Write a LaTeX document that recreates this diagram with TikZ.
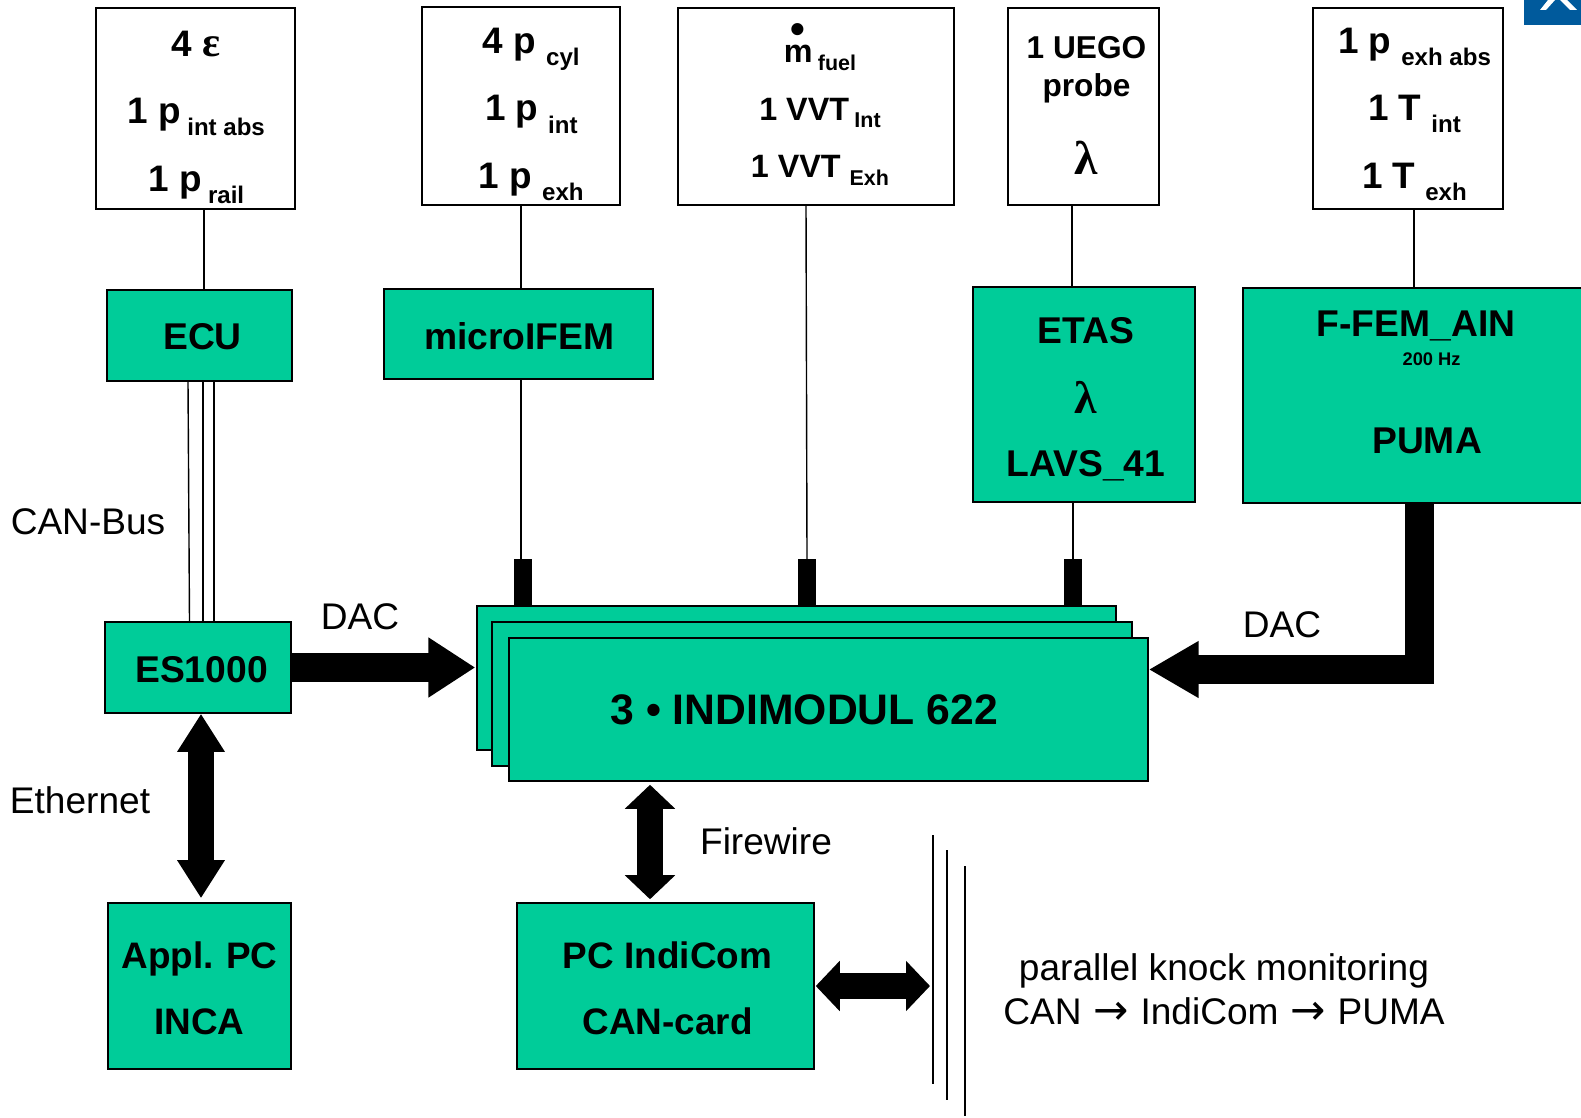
\documentclass[tikz,border=0pt]{standalone}
\usepackage{fontspec}
\setmainfont{Liberation Sans}
\newfontfamily\greekfont{Liberation Serif}
\newfontfamily\arrowfont{DejaVu Sans}
\usetikzlibrary{arrows.meta}
\definecolor{indigreen}{HTML}{00CC99}
\definecolor{logoblue}{HTML}{005A9C}
\newcommand{\lowtxt}[1]{\,\raisebox{-.33em}{\fontsize{13.7}{13.7}\selectfont #1}}
\newcommand{\lowsm}[1]{\,\raisebox{-.24em}{\fontsize{12.2}{12.2}\selectfont #1}}
\newcommand{\dotm}{\ooalign{m\cr\hidewidth\smash{\raisebox{.60em}{\fontsize{24}{24}\selectfont\textbullet}}\hidewidth\cr}}
\newcommand{\toppad}[1]{\rule{0pt}{#1}}
\newcommand{\botpad}[1]{\rule[-#1]{0pt}{#1}}
\newcommand{\rarr}{\hspace{.85pt}{\arrowfont\fontsize{24}{25}\selectfont →}\hspace{.85pt}}
\tikzset{
    sensbox/.style={draw, line width=0.9pt, fill=white, align=center, inner sep=0pt, font=\bfseries\fontsize{21}{38.3}\selectfont},
    modbox/.style={draw, line width=0.9pt, fill=indigreen, align=center, inner sep=0pt, font=\bfseries\fontsize{21.2}{33}\selectfont},
    lbl/.style={font=\fontsize{21.1}{25}\selectfont, align=center, inner sep=0pt},
    wire/.style={line width=0.8pt},
    stubline/.style={line width=0.36cm},
    dacleft/.style={line width=0.58cm, -{Triangle[width=1.14cm,length=0.94cm]}},
    dacright/.style={line width=0.58cm, line join=miter, -{Triangle[width=1.07cm,length=1.0cm]}},
    ethdbl/.style={line width=0.51cm, {Triangle[width=0.90cm,length=0.76cm]}-{Triangle[width=0.90cm,length=0.76cm]}},
    firedbl/.style={line width=0.53cm, {Triangle[width=0.98cm,length=0.48cm]}-{Triangle[width=0.98cm,length=0.48cm]}}
}
\begin{document}
\begin{tikzpicture}[x=0.02cm,y=-0.02cm]
    \useasboundingbox (0,0) rectangle (1581,1118);

    % logo corner
    \fill[logoblue] (1524,0) rectangle (1581,25);
    \fill[white] (1540,10) -- (1546,10) -- (1555,0) -- (1548,0) -- cycle;
    \fill[white] (1560,0) -- (1567,0) -- (1577,10) -- (1570,10) -- cycle;

    \node[sensbox, minimum width=3.98cm, minimum height=4.02cm] (sensA) at (195.5,108.5) {\toppad{24.5pt}\hspace*{1pt}4 {\greekfont\fontsize{24}{24}\selectfont ε}\\\hspace*{1pt}1 p\lowtxt{int abs}\\\hspace*{1pt}1 p\lowtxt{rail}};
    \node[sensbox, minimum width=3.96cm, minimum height=3.96cm] (sensB) at (521,106) {\toppad{24pt}\hspace*{11.7pt}4 p\lowtxt{\hspace{2.1pt}cyl}\\\hspace*{11.7pt}1 p\lowtxt{\hspace{2.1pt}int}\\\hspace*{11.7pt}1 p\lowtxt{\hspace{2.1pt}exh}};
    \node[sensbox, minimum width=5.52cm, minimum height=3.94cm, font=\bfseries\fontsize{18.4}{32.7}\selectfont] (sensC) at (816,106.5) {\toppad{20pt}\hspace*{4.5pt}\dotm\lowsm{fuel}\\\hspace*{4.5pt}1 VVT\lowsm{Int}\\\hspace*{4.5pt}1 VVT\lowsm{\hspace{2pt}Exh}};
    \node[sensbox, minimum width=3.02cm, minimum height=3.94cm, font=\bfseries\fontsize{18}{21.6}\selectfont] (sensD) at (1083.5,106.5) {\hspace*{3.4pt}1 UEGO\\\hspace*{3.4pt}probe\\[21pt]\hspace*{3.4pt}{\greekfont\fontsize{27}{27}\selectfont λ}\botpad{1pt}};
    \node[sensbox, minimum width=3.80cm, minimum height=4.02cm] (sensE) at (1408,108.5) {\toppad{21pt}\hspace*{7.4pt}1 p\lowtxt{\hspace{2.1pt}exh abs}\\\hspace*{7.4pt}1 T\lowtxt{\hspace{2.1pt}int}\\\hspace*{7.4pt}1 T\lowtxt{\hspace{2.1pt}exh}};

    \node[modbox, minimum width=3.70cm, minimum height=1.82cm] (ecu) at (199.5,335.5) {\toppad{16pt}\hspace*{3.4pt}ECU};
    \node[modbox, minimum width=5.38cm, minimum height=1.80cm] (mife) at (518.5,334) {\toppad{18.4pt}\hspace*{1pt}microIFEM};
    \node[modbox, minimum width=4.44cm, minimum height=4.30cm, font=\bfseries\fontsize{21.2}{38}\selectfont] (etas) at (1084,394.5) {\toppad{20pt}\hspace*{2.3pt}ETAS\\\hspace*{2.3pt}\raisebox{-2pt}{\greekfont\fontsize{26}{26}\selectfont λ}\\\hspace*{2.3pt}LAVS\_41};
    \node[modbox, minimum width=7.06cm, minimum height=4.30cm] (puma) at (1419.5,395.5) {\hspace*{-4pt}F-FEM\_AIN\\[-16.6pt]\hspace*{13.7pt}{\fontsize{10.4}{12}\selectfont 200 Hz}\\[17pt]\hspace*{8.6pt}PUMA\botpad{15pt}};
    \node[modbox, minimum width=3.72cm, minimum height=1.82cm] (es) at (198,667.5) {\toppad{17.3pt}\hspace*{4pt}ES1000};

    \node[modbox, minimum width=12.78cm, minimum height=2.88cm] (indiBack) at (796.5,678) {};
    \node[modbox, minimum width=12.80cm, minimum height=2.88cm] (indiMid) at (812,694) {};
    \node[modbox, minimum width=12.78cm, minimum height=2.86cm, font=\bfseries\fontsize{24.3}{30}\selectfont] (indiFront) at (828.5,709.5) {\hspace*{-27.6pt}3 • INDIMODUL 622};

    \node[modbox, minimum width=3.66cm, minimum height=3.32cm, font=\bfseries\fontsize{21}{37.5}\selectfont] (appl) at (199.5,986) {\toppad{18pt}Appl.\,\,PC\\INCA};
    \node[modbox, minimum width=5.94cm, minimum height=3.32cm, font=\bfseries\fontsize{21}{37.5}\selectfont] (pcin) at (665.5,986) {\toppad{18pt}\hspace*{2.3pt}PC IndiCom\\\hspace*{2.3pt}CAN-card};

    \node[lbl] (canbus) at (88,522) {CAN-Bus};
    \node[lbl] (dacA) at (360,617) {DAC};
    \node[lbl] (eth) at (80,800) {Ethernet};
    \node[lbl] (dacB) at (1282,625) {DAC};
    \node[lbl] (fire) at (766,841) {Firewire};
    \node[lbl] (knock) at (1224,989) {parallel knock monitoring\\CAN \rarr{} IndiCom \rarr{} PUMA};

    \coordinate (stubB) at (523,559);
    \coordinate (stubC) at (807,559);
    \coordinate (stubD) at (1073,559);
    \coordinate (dacTurn) at (1419.5,669.5);
    \coordinate (busAtop) at (933,835);
    \coordinate (busAbot) at (933,1084);
    \coordinate (busBtop) at (947,850);
    \coordinate (busBbot) at (947,1100);
    \coordinate (busCtop) at (965,866);
    \coordinate (busCbot) at (965,1116);

    \draw[wire] (204,0 |- sensA.south) -- (204,0 |- ecu.north);
    \draw[wire] (521,0 |- sensB.south) -- (521,0 |- mife.north);
    \draw[wire] (806,0 |- sensC.south) -- (stubC);
    \draw[wire] (1072,0 |- sensD.south) -- (1072,0 |- etas.north);
    \draw[wire] (1414,0 |- sensE.south) -- (1414,0 |- puma.north);

    \draw[wire] (521,0 |- mife.south) -- (521,0 |- stubB);
    \draw[wire] (1073,0 |- etas.south) -- (stubD);
    \draw[stubline] (stubB) -- (stubB |- indiBack.north);
    \draw[stubline] (stubC) -- (stubC |- indiBack.north);
    \draw[stubline] (stubD) -- (stubD |- indiBack.north);

    \draw[wire] (188,0 |- ecu.south) -- (189.5,0 |- es.north);
    \draw[wire] (203,0 |- ecu.south) -- (203,0 |- es.north);
    \draw[wire] (214,0 |- ecu.south) -- (214,0 |- es.north);

    \draw[dacleft, shorten >=0.02cm] (es.east) -- (es.east -| indiBack.west);
    \draw[dacright] (puma.south) -- (dacTurn) -- (dacTurn -| indiFront.east);

    \draw[ethdbl, shorten >=0.08cm] (201,0 |- es.south) -- (201,0 |- appl.north);
    \draw[firedbl, shorten <=0.06cm, shorten >=0.06cm] (650,0 |- indiFront.south) -- (650,0 |- pcin.north);
    \draw[firedbl, shorten <=0.02cm, shorten >=0.06cm] (pcin.east) -- (pcin.east -| busAtop);

    \draw[wire] (busAtop) -- (busAbot);
    \draw[wire] (busBtop) -- (busBbot);
    \draw[wire] (busCtop) -- (busCbot);
\end{tikzpicture}
\end{document}
